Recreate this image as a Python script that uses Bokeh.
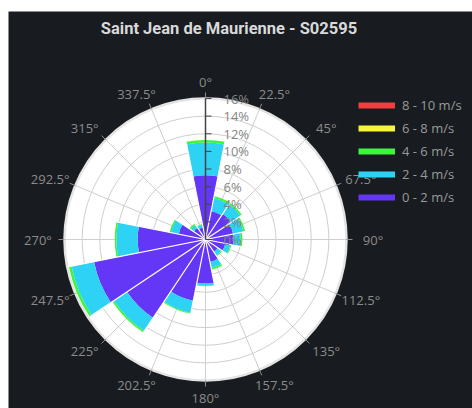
import numpy as np
from bokeh.plotting import figure
from bokeh.models import Range1d, Label, Legend, LegendItem, Spacer
from bokeh.layouts import column, row
from bokeh.core.properties import value
from bokeh.embed import file_html
from bokeh.resources import INLINE

# ---------------- data ----------------
title = "Saint Jean de Maurienne - S02595"
directions = [0, 22.5, 45, 67.5, 90, 112.5, 135, 157.5, 180, 202.5, 225, 247.5, 270, 292.5, 315, 337.5]
direction_labels = ["0°", "22.5°", "45°", "67.5°", "90°", "112.5°", "135°", "157.5°",
                    "180°", "202.5°", "225°", "247.5°", "270°", "292.5°", "315°", "337.5°"]
speed_0_2 = [7.3, 3.3, 3.5, 3.2, 3.2, 2.3, 1.7, 2.6, 5.0, 7.1, 10.7, 12.9, 7.7, 3.1, 1.6, 1.4]
speed_2_4 = [3.7, 1.5, 1.3, 1.2, 0.8, 0.6, 0.5, 0.7, 0.2, 1.4, 1.8, 2.6, 2.4, 0.9, 0.4, 0.3]
speed_4_6 = [0.3, 0.2, 0.2, 0.2, 0.2, 0.1, 0.1, 0.2, 0.1, 0.1, 0.2, 0.3, 0.2, 0.15, 0.2, 0.1]
speed_6_8 = [0, 0, 0, 0, 0, 0, 0, 0, 0, 0, 0, 0, 0, 0, 0, 0]
speed_8_10 = [0, 0, 0, 0, 0, 0, 0, 0, 0, 0, 0, 0, 0, 0, 0, 0]
series_names = ["0 - 2 m/s", "2 - 4 m/s", "4 - 6 m/s", "6 - 8 m/s", "8 - 10 m/s"]
series_colors = ["#6436f6", "#2dd2f5", "#3df53d", "#f5f53d", "#f53d3d"]
radial_ticks = [0, 2, 4, 6, 8, 10, 12, 14, 16]
radial_labels = ["0%", "2%", "4%", "6%", "8%", "10%", "12%", "14%", "16%"]
r_max = 16

# ---------------- style ----------------
BG = "#181b1f"
GRID = "#cfcfcf"
LABEL = "#8c8c8c"
FONT = "Open Sans"
K = 8.8125            # px per % on the radial axis
W, H = 464, 397
CX, CY = 197, 228     # polar centre in figure pixels (from left / top)

p = figure(width=W, height=H,
           x_range=Range1d(-CX / K, (W - CX) / K),
           y_range=Range1d(-(H - CY) / K, CY / K),
           output_backend="svg", toolbar_location=None, min_border=0,
           x_axis_type=None, y_axis_type=None,
           background_fill_color=BG, border_fill_color=BG, outline_line_color=None)

theta = np.radians(np.array(directions, dtype=float))
sin_t, cos_t = np.sin(theta), np.cos(theta)

# polar background
p.circle(x=[0], y=[0], radius=[r_max], fill_color="white", line_color="#e4e4e4", line_width=2.5)
grid_r = radial_ticks[1:-1]
p.circle(x=[0] * len(grid_r), y=[0] * len(grid_r), radius=grid_r,
         fill_color=None, line_color=GRID, line_width=1)
p.segment(x0=[0] * 16, y0=[0] * 16, x1=r_max * sin_t, y1=r_max * cos_t,
          line_color=GRID, line_width=1)

# stacked bars
series = [speed_0_2, speed_2_4, speed_4_6, speed_6_8, speed_8_10]
bottom = np.zeros(16)
half = np.radians(11.25)
start = np.pi / 2 - theta - half
end = np.pi / 2 - theta + half
for vals, col in zip(series, series_colors):
    v = np.array(vals, dtype=float)
    top = bottom + v
    m = v > 0
    if m.any():
        p.annular_wedge(x=0, y=0, inner_radius=bottom[m], outer_radius=top[m],
                        start_angle=start[m], end_angle=end[m],
                        fill_color=col, line_color=None)
    bottom = top
total = bottom
# white separators between adjacent bars
b_ang = theta + half
sep_len = np.maximum(total, np.roll(total, -1))
p.segment(x0=[0] * 16, y0=[0] * 16, x1=sep_len * np.sin(b_ang), y1=sep_len * np.cos(b_ang),
          line_color="white", line_width=1.2)

# angular ticks + labels
tick_len = 6 / K
p.segment(x0=r_max * sin_t, y0=r_max * cos_t,
          x1=(r_max + tick_len) * sin_t, y1=(r_max + tick_len) * cos_t,
          line_color=LABEL, line_width=1)
fs = 13
s_sign = np.where(np.abs(sin_t) < 0.05, 0.0, np.sign(sin_t))
lx = s_sign * (7.9 + 159.6 * np.abs(sin_t)) / K
ly = 158 * cos_t / K
p.text(x=lx, y=ly, text=direction_labels, text_align="center", text_baseline="middle",
       text_font=value(FONT), text_font_size=f"{fs}px", text_color=LABEL)

# radial axis (drawn above bars)
p.segment(x0=[0], y0=[0], x1=[0], y1=[r_max], line_color="#444444", line_width=1.5)
p.segment(x0=[0] * len(radial_ticks), y0=radial_ticks,
          x1=[6 / K] * len(radial_ticks), y1=radial_ticks,
          line_color="#444444", line_width=1)
p.text(x=[18 / K] * len(radial_ticks), y=radial_ticks, text=radial_labels,
       text_align="left", text_baseline="middle",
       text_font=value(FONT), text_font_size=f"{fs}px", text_color="#858585")

# legend (top item = fastest)
items = []
for name, col in list(zip(series_names, series_colors))[::-1]:
    r = p.line(x=[np.nan, np.nan], y=[np.nan, np.nan], line_color=col, line_width=6)
    items.append(LegendItem(label=name, renderers=[r]))
legend = Legend(items=items, location=(350, 201), orientation="vertical",
                glyph_width=37, glyph_height=20, label_height=20, spacing=3,
                label_standoff=7, padding=0, margin=0,
                border_line_color=None, background_fill_alpha=0,
                label_text_color="#9a9a9a", label_text_font=FONT,
                label_text_font_size="13px")
p.add_layout(legend, "center")

# title
p.add_layout(Label(x=220.5, y=H - 17, x_units="screen", y_units="screen", text=title,
                   text_align="center", text_baseline="middle",
                   text_font="Roboto", text_font_style="bold", text_font_size="16.5px",
                   text_color="#d8d9da"))

layout = row(Spacer(width=8), column(Spacer(height=11), p))
open("out.html", "w").write(file_html(layout, INLINE))
